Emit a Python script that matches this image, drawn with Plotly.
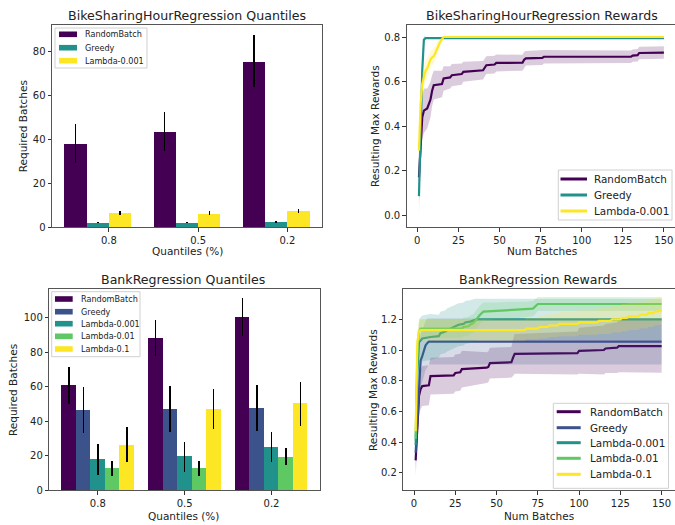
import plotly.graph_objects as go

# ---------------- data ----------------
quantile_labels = ["0.8", "0.5", "0.2"]

# BikeSharingHourRegression: required batches per quantile (mean, std)
bike_names = ["RandomBatch", "Greedy", "Lambda-0.001"]
bike_random = [38.0, 43.5, 75.5]
bike_random_err = [9.0, 9.0, 12.0]
bike_greedy = [2.1, 2.1, 2.3]
bike_greedy_err = [0.3, 0.3, 0.3]
bike_lambda = [6.4, 6.3, 7.4]
bike_lambda_err = [1.0, 0.9, 1.0]

# BankRegression: required batches per quantile (mean, std)
bank_names = ["RandomBatch", "Greedy", "Lambda-0.001", "Lambda-0.01", "Lambda-0.1"]
bank_random = [60.5, 88.3, 100.2]
bank_random_err = [10.7, 10.3, 11.0]
bank_greedy = [46.5, 47.0, 47.5]
bank_greedy_err = [13.5, 13.4, 13.5]
bank_l0001 = [17.8, 19.3, 24.9]
bank_l0001_err = [8.9, 8.7, 8.6]
bank_l001 = [12.6, 12.6, 19.2]
bank_l001_err = [4.5, 4.5, 4.9]
bank_l01 = [26.2, 46.9, 50.1]
bank_l01_err = [10.2, 11.7, 12.8]

# BikeSharingHourRegression rewards: batch index, mean max reward, std
bike_rb_x = [1, 2, 3, 4, 6, 7, 8, 9, 10, 15, 16, 20, 21, 27, 28, 40, 41, 42, 47, 48,
             64, 65, 66, 76, 77, 130, 131, 134, 135, 150]
bike_rb_y = [0.17, 0.30, 0.44, 0.47, 0.48, 0.50, 0.52, 0.56, 0.585, 0.59, 0.615, 0.62,
             0.63, 0.635, 0.645, 0.652, 0.665, 0.675, 0.678, 0.685, 0.686, 0.70, 0.706,
             0.708, 0.713, 0.713, 0.718, 0.72, 0.73, 0.732]
bike_rb_sd = [0.12, 0.12, 0.10, 0.10, 0.09, 0.085, 0.08, 0.07, 0.065, 0.06, 0.055, 0.05,
              0.05, 0.048, 0.045, 0.042, 0.04, 0.04, 0.04, 0.038, 0.036, 0.035, 0.033,
              0.032, 0.03, 0.028, 0.028, 0.028, 0.028, 0.028]

bike_gr_x = [1, 2, 3, 4, 5, 150]
bike_gr_y = [0.085, 0.40, 0.65, 0.79, 0.797, 0.797]
bike_gr_sd = [0.09, 0.10, 0.08, 0.02, 0.004, 0.004]

bike_la_x = [1, 2, 3, 4, 5, 6, 7, 8, 9, 10, 11, 12, 13, 14, 15, 16, 150]
bike_la_y = [0.29, 0.50, 0.59, 0.62, 0.65, 0.66, 0.68, 0.70, 0.71, 0.715, 0.73, 0.75,
             0.765, 0.78, 0.79, 0.802, 0.802]
bike_la_sd = [0.06, 0.06, 0.05, 0.05, 0.045, 0.045, 0.04, 0.04, 0.035, 0.035, 0.03,
              0.03, 0.025, 0.02, 0.015, 0.003, 0.003]

# BankRegression rewards: batch index, mean max reward, std
bank_rb_x = [1, 2, 3, 4, 5, 9, 10, 24, 25, 28, 29, 44, 45, 46, 59, 60, 61, 99, 100,
             115, 116, 123, 124, 150]
bank_rb_y = [0.28, 0.55, 0.70, 0.745, 0.765, 0.77, 0.83, 0.835, 0.85, 0.855, 0.875,
             0.885, 0.89, 0.915, 0.92, 0.95, 0.975, 0.98, 0.995, 1.0, 1.01, 1.015,
             1.025, 1.025]
bank_rb_sd = [0.10, 0.15, 0.14, 0.13, 0.13, 0.13, 0.12, 0.12, 0.12, 0.12, 0.12, 0.10,
              0.10, 0.10, 0.10, 0.12, 0.13, 0.14, 0.15, 0.16, 0.16, 0.165, 0.17, 0.173]

bank_gr_x = [1, 2, 3, 4, 5, 6, 7, 8, 9, 150]
bank_gr_y = [0.33, 0.55, 0.80, 0.93, 0.96, 1.0, 1.03, 1.045, 1.055, 1.055]
bank_gr_sd = [0.10, 0.15, 0.17, 0.17, 0.17, 0.17, 0.16, 0.16, 0.15, 0.15]

bank_l0001_x = [1, 2, 3, 4, 5, 10, 15, 16, 19, 20, 22, 23, 26, 27, 30, 31, 34, 35,
                37, 38, 150]
bank_l0001_y = [0.38, 0.85, 1.05, 1.06, 1.075, 1.085, 1.09, 1.11, 1.12, 1.13, 1.14,
                1.15, 1.16, 1.165, 1.17, 1.18, 1.185, 1.19, 1.195, 1.20, 1.20]
bank_l0001_sd = [0.06, 0.10, 0.15, 0.15, 0.15, 0.15, 0.14, 0.14, 0.14, 0.14, 0.14,
                 0.14, 0.14, 0.14, 0.14, 0.14, 0.14, 0.14, 0.14, 0.135, 0.135]

bank_l001_x = [1, 2, 3, 4, 29, 30, 33, 34, 36, 37, 38, 40, 42, 50, 60, 68, 72, 73,
               74, 75, 150]
bank_l001_y = [0.42, 0.95, 1.12, 1.14, 1.14, 1.15, 1.155, 1.165, 1.175, 1.19, 1.20,
               1.23, 1.25, 1.255, 1.26, 1.265, 1.27, 1.28, 1.29, 1.30, 1.30]
bank_l001_sd = [0.05, 0.06, 0.06, 0.06, 0.06, 0.06, 0.06, 0.06, 0.06, 0.06, 0.06,
                0.06, 0.06, 0.055, 0.055, 0.05, 0.05, 0.05, 0.045, 0.045, 0.045]

bank_l01_x = [1, 2, 3, 4, 67, 68, 75, 76, 81, 82, 87, 88, 99, 100, 111, 112, 119, 120,
              125, 126, 129, 130, 136, 137, 141, 142, 145, 146, 150]
bank_l01_y = [0.47, 1.05, 1.12, 1.13, 1.13, 1.14, 1.14, 1.15, 1.15, 1.16, 1.16, 1.17,
              1.17, 1.18, 1.18, 1.19, 1.19, 1.20, 1.20, 1.21, 1.21, 1.22, 1.22, 1.23,
              1.23, 1.24, 1.24, 1.25, 1.255]
bank_l01_sd = [0.05, 0.07, 0.07, 0.07, 0.07, 0.07, 0.07, 0.075, 0.075, 0.075, 0.075,
               0.08, 0.08, 0.08, 0.08, 0.085, 0.085, 0.085, 0.085, 0.09, 0.09, 0.09,
               0.09, 0.09, 0.09, 0.09, 0.09, 0.09, 0.09]

VIRIDIS3 = ["#440154", "#21918c", "#fde725"]
VIRIDIS5 = ["#440154", "#3b528b", "#21918c", "#5ec962", "#fde725"]

W, H = 675, 525
FONT = "DejaVu Sans"
TXT = "#222222"
SPINE = "#555555"


def px(x):
    return x / W


def py(y):
    return 1 - y / H


def rgba(hexcol, a):
    h = hexcol.lstrip("#")
    r, g, b = int(h[0:2], 16), int(h[2:4], 16), int(h[4:6], 16)
    return f"rgba({r},{g},{b},{a})"


fig = go.Figure()


# ---------------- grouped bars with error bars ----------------
def add_bars(series, errs, names, colors, width, xa, ya):
    n_groups = len(series[0])
    for k, (vals, err, name, col) in enumerate(zip(series, errs, names, colors)):
        xs = [g + k * width for g in range(n_groups)]
        fig.add_trace(go.Bar(
            x=xs, y=vals, width=width, name=name, showlegend=False,
            marker=dict(color=col, line=dict(width=0)),
            error_y=dict(type="data", array=err, visible=True, color="black",
                         thickness=1.6, width=0),
            xaxis=xa, yaxis=ya,
        ))


add_bars([bike_random, bike_greedy, bike_lambda],
         [bike_random_err, bike_greedy_err, bike_lambda_err],
         bike_names, VIRIDIS3, 0.25, "x", "y")

add_bars([bank_random, bank_greedy, bank_l0001, bank_l001, bank_l01],
         [bank_random_err, bank_greedy_err, bank_l0001_err, bank_l001_err, bank_l01_err],
         bank_names, VIRIDIS5, 1 / 6, "x3", "y3")


# ---------------- reward curves with std bands ----------------
def add_curve(xs, ys, sds, name, col, xa, ya):
    lo = [m - s for m, s in zip(ys, sds)]
    hi = [m + s for m, s in zip(ys, sds)]
    fig.add_trace(go.Scatter(x=xs, y=lo, mode="lines", line=dict(width=0),
                             showlegend=False, hoverinfo="skip", xaxis=xa, yaxis=ya))
    fig.add_trace(go.Scatter(x=xs, y=hi, mode="lines", line=dict(width=0),
                             fill="tonexty", fillcolor=rgba(col, 0.2),
                             showlegend=False, hoverinfo="skip", xaxis=xa, yaxis=ya))
    fig.add_trace(go.Scatter(x=xs, y=ys, mode="lines", name=name, showlegend=False,
                             line=dict(color=col, width=2.2), xaxis=xa, yaxis=ya))


bike_curves = [(bike_rb_x, bike_rb_y, bike_rb_sd),
               (bike_gr_x, bike_gr_y, bike_gr_sd),
               (bike_la_x, bike_la_y, bike_la_sd)]
for (xs, ys, sd), name, col in zip(bike_curves, bike_names, VIRIDIS3):
    add_curve(xs, ys, sd, name, col, "x2", "y2")

bank_curves = [(bank_rb_x, bank_rb_y, bank_rb_sd),
               (bank_gr_x, bank_gr_y, bank_gr_sd),
               (bank_l0001_x, bank_l0001_y, bank_l0001_sd),
               (bank_l001_x, bank_l001_y, bank_l001_sd),
               (bank_l01_x, bank_l01_y, bank_l01_sd)]
for (xs, ys, sd), name, col in zip(bank_curves, bank_names, VIRIDIS5):
    add_curve(xs, ys, sd, name, col, "x4", "y4")


# ---------------- axes ----------------
def axis_style(**kw):
    base = dict(showline=True, linecolor=SPINE, linewidth=1, mirror=True,
                ticks="outside", ticklen=3.5, tickwidth=0.8, tickcolor="#333333",
                showgrid=False, zeroline=False, automargin=False,
                tickfont=dict(family=FONT, size=10, color=TXT))
    base.update(kw)
    return base


fig.update_layout(
    width=W, height=H, autosize=False,
    margin=dict(l=0, r=0, t=0, b=0, pad=0),
    paper_bgcolor="white", plot_bgcolor="white",
    barmode="overlay", bargap=0,
    showlegend=False,
    xaxis=axis_style(domain=[px(52), px(322)], range=[-0.2625, 2.7625],
                     tickvals=[g + 0.375 for g in range(3)], ticktext=quantile_labels,
                     anchor="y"),
    yaxis=axis_style(domain=[py(227), py(24.5)], range=[0, 92.1],
                     tickvals=[0, 20, 40, 60, 80], anchor="x"),
    xaxis2=axis_style(domain=[px(406.7), 1.0], range=[-6.45, 156.75],
                      tickvals=[0, 25, 50, 75, 100, 125, 150], anchor="y2"),
    yaxis2=axis_style(domain=[py(227), py(25)], range=[-0.054, 0.856], mirror=False,
                      tickvals=[0.0, 0.2, 0.4, 0.6, 0.8], tickformat=".1f", anchor="x2"),
    xaxis3=axis_style(domain=[px(49.3), px(320)], range=[-0.225, 2.892],
                      tickvals=[g + 2 / 6 for g in range(3)], ticktext=quantile_labels,
                      anchor="y3"),
    yaxis3=axis_style(domain=[py(490), py(289.3)], range=[0, 116.5],
                      tickvals=[0, 20, 40, 60, 80, 100], anchor="x3"),
    xaxis4=axis_style(domain=[px(403.3), 1.0], range=[-6.48, 158.1],
                      tickvals=[0, 25, 50, 75, 100, 125, 150], anchor="y4"),
    yaxis4=axis_style(domain=[py(490), py(289.3)], range=[0.087, 1.396], mirror=False,
                      tickvals=[0.2, 0.4, 0.6, 0.8, 1.0, 1.2], tickformat=".1f",
                      anchor="x4"),
)

# ---------------- titles and axis labels ----------------
annotations = []


def label(text, x, y, size, angle=0):
    annotations.append(dict(text=text, x=px(x), y=py(y), xref="paper", yref="paper",
                            showarrow=False, xanchor="center", yanchor="middle",
                            textangle=angle, font=dict(family=FONT, size=size, color=TXT)))


label("BikeSharingHourRegression Quantiles", 187, 15, 12.6)
label("BikeSharingHourRegression Rewards", 542, 15, 12.6)
label("BankRegression Quantiles", 183.3, 279.3, 12.6)
label("BankRegression Rewards", 538.3, 279.3, 12.6)

label("Quantiles (%)", 187, 251, 10.5)
label("Num Batches", 541.7, 251, 10.5)
label("Quantiles (%)", 183.3, 515.5, 10.5)
label("Num Batches", 538.7, 515.5, 10.5)

label("Required Batches", 23.3, 126, 10.5, -90)
label("Resulting Max Rewards", 375, 126, 10.5, -90)
label("Required Batches", 12.3, 389.7, 10.5, -90)
label("Resulting Max Rewards", 372.3, 389.7, 10.5, -90)

# ---------------- legends ----------------
shapes = []


def legend(box, rows, names, colors, sw_x, text_x, size, kind):
    x0, y0, x1, y1 = box
    shapes.append(dict(type="rect", xref="paper", yref="paper",
                       x0=px(x0), x1=px(x1), y0=py(y1), y1=py(y0),
                       line=dict(color="#d0d0d0", width=1),
                       fillcolor="rgba(255,255,255,0.85)", layer="above"))
    for yy, name, col in zip(rows, names, colors):
        if kind == "bar":
            shapes.append(dict(type="rect", xref="paper", yref="paper",
                               x0=px(sw_x[0]), x1=px(sw_x[1]),
                               y0=py(yy + 2.8), y1=py(yy - 2.8),
                               line=dict(width=0), fillcolor=col, layer="above"))
        else:
            shapes.append(dict(type="line", xref="paper", yref="paper",
                               x0=px(sw_x[0]), x1=px(sw_x[1]), y0=py(yy), y1=py(yy),
                               line=dict(color=col, width=3), layer="above"))
        annotations.append(dict(text=name, x=px(text_x), y=py(yy), xref="paper",
                                yref="paper", showarrow=False, xanchor="left",
                                yanchor="middle",
                                font=dict(family=FONT, size=size, color=TXT)))


legend((55, 28, 147, 68), [34.3, 47.7, 60.7], bike_names, VIRIDIS3,
       (59, 77), 82.7, 8.1, "bar")
legend((51.7, 291.7, 140, 356.7), [299, 311.7, 323.7, 336.3, 349], bank_names, VIRIDIS5,
       (55, 72.7), 79.3, 8.1, "bar")
legend((558.3, 170, 672, 220), [179, 195, 211], bike_names, VIRIDIS3,
       (560.5, 587), 591.7, 10.4, "line")
legend((553.3, 403.3, 668.5, 488.3), [411.7, 427.7, 442.7, 458.3, 474.3], bank_names,
       VIRIDIS5, (556.7, 580.7), 588.3, 10.4, "line")

fig.update_layout(annotations=annotations, shapes=shapes)

fig.write_html("out.html")
